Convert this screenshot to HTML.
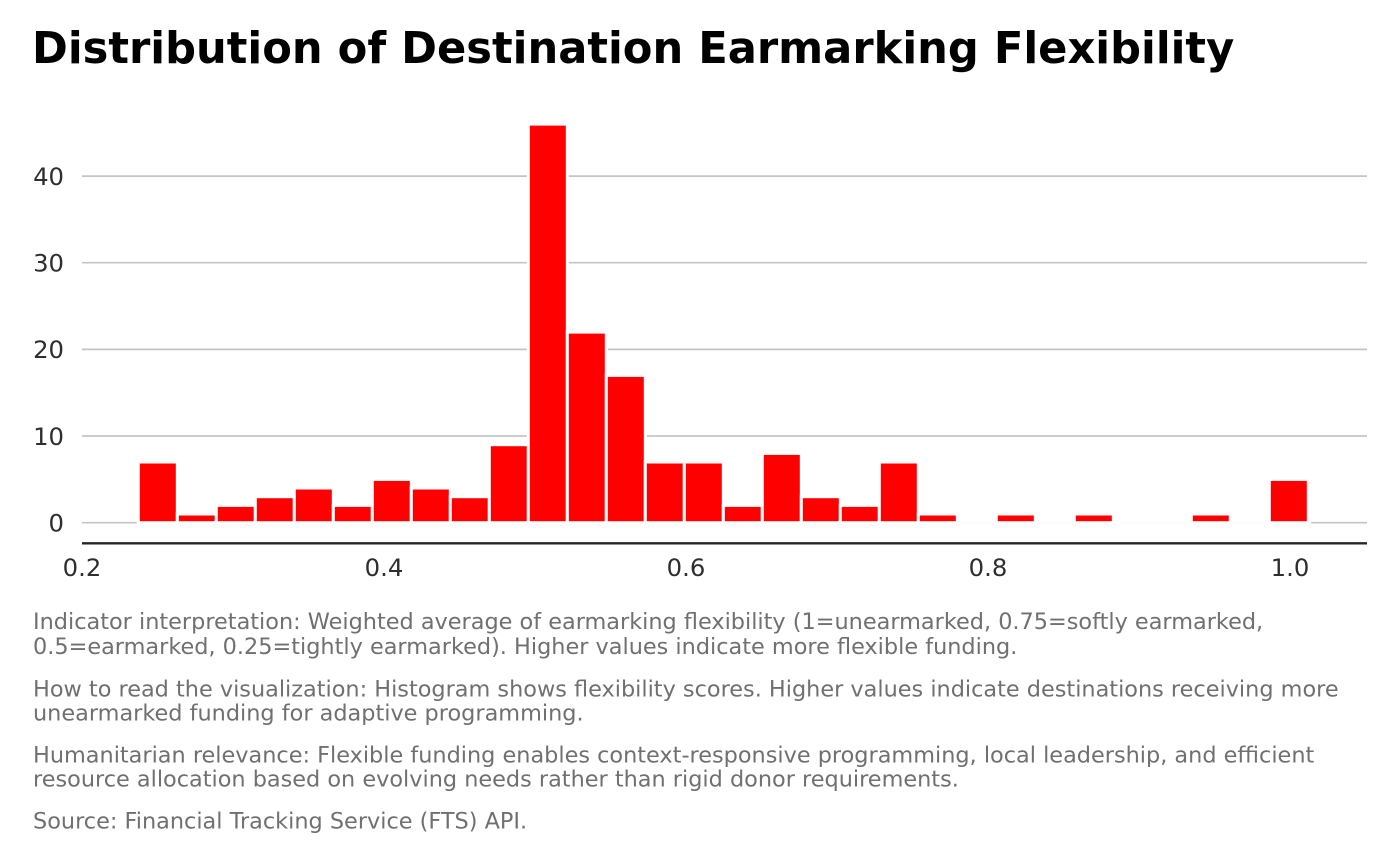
<!DOCTYPE html>
<html>
<head>
<meta charset="utf-8">
<style>
  html, body { margin:0; padding:0; background:#fff; }
  body { width:1400px; height:866px; overflow:hidden; }
  svg { display:block; }
  .title { font-family:"DejaVu Sans","Liberation Sans",sans-serif; font-weight:bold; font-size:43.2px; fill:#000; }
  .tick { font-family:"DejaVu Sans","Liberation Sans",sans-serif; font-size:24.3px; fill:#2e2e2e; }
  .cap { font-family:"DejaVu Sans","Liberation Sans",sans-serif; font-size:22.38px; fill:#707070; }
</style>
</head>
<body>
<svg width="1400" height="866" viewBox="0 0 1400 866" xmlns="http://www.w3.org/2000/svg">
  <rect x="0" y="0" width="1400" height="866" fill="#fff"/>
  <text class="title" x="32" y="63">Distribution of Destination Earmarking Flexibility</text>

  <!-- gridlines -->
  <g stroke="#c4c4c4" stroke-width="1.7">
    <line x1="82" y1="522.7" x2="1367" y2="522.7"/>
    <line x1="82" y1="436.0" x2="1367" y2="436.0"/>
    <line x1="82" y1="349.4" x2="1367" y2="349.4"/>
    <line x1="82" y1="262.7" x2="1367" y2="262.7"/>
    <line x1="82" y1="176.1" x2="1367" y2="176.1"/>
  </g>

  <!-- y tick labels -->
  <g class="tick" text-anchor="end">
    <text x="64" y="531.5">0</text>
    <text x="64" y="444.8">10</text>
    <text x="64" y="358.2">20</text>
    <text x="64" y="271.5">30</text>
    <text x="64" y="184.9">40</text>
  </g>

  <!-- zero-height bin outlines (white) -->
  <line x1="136.8" y1="522.7" x2="1311.3" y2="522.7" stroke="#fdfdfd" stroke-width="3"/>

  <!-- bars -->
  <g fill="#ff0000" stroke="#ffffff" stroke-width="3">
    <rect x="138.3" y="462.0" width="39" height="60.7"/>
    <rect x="177.3" y="514.0" width="39" height="8.7"/>
    <rect x="216.3" y="505.4" width="39" height="17.3"/>
    <rect x="255.3" y="496.7" width="39" height="26.0"/>
    <rect x="294.3" y="488.0" width="39" height="34.7"/>
    <rect x="333.3" y="505.4" width="39" height="17.3"/>
    <rect x="372.3" y="479.4" width="39" height="43.3"/>
    <rect x="411.3" y="488.0" width="39" height="34.7"/>
    <rect x="450.3" y="496.7" width="39" height="26.0"/>
    <rect x="489.3" y="444.7" width="39" height="78.0"/>
    <rect x="528.3" y="124.1" width="39" height="398.6"/>
    <rect x="567.3" y="332.1" width="39" height="190.6"/>
    <rect x="606.3" y="375.4" width="39" height="147.3"/>
    <rect x="645.3" y="462.0" width="39" height="60.7"/>
    <rect x="684.3" y="462.0" width="39" height="60.7"/>
    <rect x="723.3" y="505.4" width="39" height="17.3"/>
    <rect x="762.3" y="453.4" width="39" height="69.3"/>
    <rect x="801.3" y="496.7" width="39" height="26.0"/>
    <rect x="840.3" y="505.4" width="39" height="17.3"/>
    <rect x="879.3" y="462.0" width="39" height="60.7"/>
    <rect x="918.3" y="514.0" width="39" height="8.7"/>
    <rect x="996.3" y="514.0" width="39" height="8.7"/>
    <rect x="1074.3" y="514.0" width="39" height="8.7"/>
    <rect x="1191.3" y="514.0" width="39" height="8.7"/>
    <rect x="1269.3" y="479.4" width="39" height="43.3"/>
  </g>

  <!-- x axis line -->
  <line x1="82" y1="543.3" x2="1367" y2="543.3" stroke="#262626" stroke-width="2.3"/>

  <!-- x tick labels -->
  <g class="tick" text-anchor="middle">
    <text x="82" y="576">0.2</text>
    <text x="384" y="576">0.4</text>
    <text x="686" y="576">0.6</text>
    <text x="988" y="576">0.8</text>
    <text x="1290" y="576">1.0</text>
  </g>

  <!-- caption -->
  <g class="cap">
    <text x="33" y="629">Indicator interpretation: Weighted average of earmarking flexibility (1=unearmarked, 0.75=softly earmarked,</text>
    <text x="33" y="654">0.5=earmarked, 0.25=tightly earmarked). Higher values indicate more flexible funding.</text>
    <text x="33" y="696.5">How to read the visualization: Histogram shows flexibility scores. Higher values indicate destinations receiving more</text>
    <text x="33" y="720.5">unearmarked funding for adaptive programming.</text>
    <text x="33" y="762.7">Humanitarian relevance: Flexible funding enables context-responsive programming, local leadership, and efficient</text>
    <text x="33" y="786.5">resource allocation based on evolving needs rather than rigid donor requirements.</text>
    <text x="33" y="828.3">Source: Financial Tracking Service (FTS) API.</text>
  </g>
</svg>
</body>
</html>
